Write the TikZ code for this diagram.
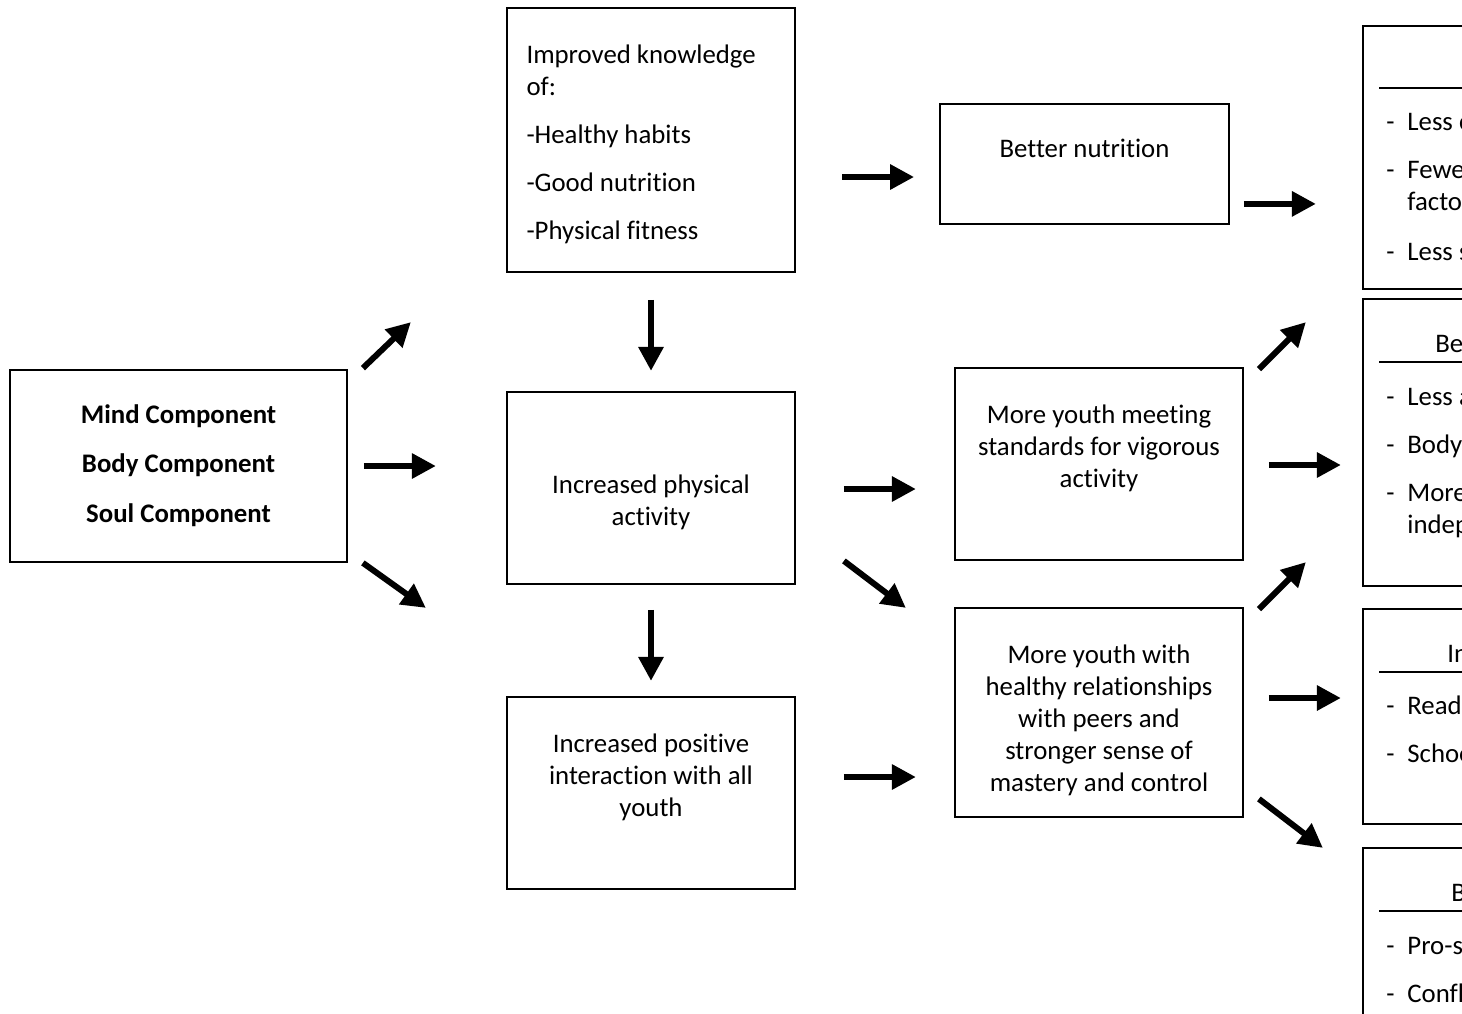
\documentclass[tikz,border=0pt]{standalone}
\usepackage{fontspec}
\setmainfont{Carlito}[Ligatures=NoCommon]
\usetikzlibrary{arrows.meta,calc}

\newcommand{\itm}{\makebox[10.5pt][l]{-}}

\tikzset{
  box/.style={draw, line width=0.9pt, inner sep=0pt},
  txt/.style={inner sep=0pt, align=center, font=\fontsize{13.4}{16.1}\selectfont},
  ltxt/.style={inner sep=0pt, anchor=base west, font=\fontsize{13.4}{16.1}\selectfont},
  bigarrow/.style={line width=3pt, -{Triangle[length=12pt,width=12pt]}},
}

\begin{document}
\begin{tikzpicture}[x=0.5pt, y=-0.5pt]
\useasboundingbox (0,0) rectangle (1462,1013);
\clip (0,0) rectangle (1462,1013);

% boxes, left to right
\node[box, minimum width=168.5pt, minimum height=96pt] (mind) at (178.5,466) {};
\node[box, minimum width=144pt, minimum height=132pt] (know) at (651,140) {};
\node[box, minimum width=144pt, minimum height=96pt] (act) at (651,488) {};
\node[box, minimum width=144pt, minimum height=96pt] (inter) at (651,793) {};
\node[box, minimum width=144.5pt, minimum height=60pt] (nutr) at (1084.5,164) {};
\node[box, minimum width=144pt, minimum height=96pt] (vig) at (1099,464) {};
\node[box, minimum width=144pt, minimum height=104.5pt] (rel) at (1099,712.5) {};

% outcome boxes (cut by the page edge)
\node[box, anchor=north west, minimum width=169pt, minimum height=131.5pt] (health) at (1362,25) {};
\node[box, anchor=north west, minimum width=169pt, minimum height=143.5pt] (esteem) at (1362,298) {};
\node[box, anchor=north west, minimum width=169pt, minimum height=107.5pt] (school) at (1362,608) {};
\node[box, anchor=north west, minimum width=169pt, minimum height=136.5pt] (behav) at (1362,847) {};

% texts
\node[txt, anchor=north] (mindtxt) at ($(mind.north)+(0,35)$)
  {\bfseries Mind Component\\[8.6pt]\bfseries Body Component\\[8.6pt]\bfseries Soul Component};
\node[txt, anchor=north west, align=left] (knowtxt) at ($(know.north west)+(20,37)$)
  {Improved knowledge\\ of:\\[8pt] -Healthy habits\\[8pt] -Good nutrition\\[8pt] -Physical fitness};
\node[txt, anchor=north] (acttxt) at ($(act.north)+(0,83)$) {Increased physical\\activity};
\node[txt, anchor=north] (intertxt) at ($(inter.north)+(0,37)$) {Increased positive\\interaction with all\\youth};
\node[txt, anchor=north] (nutrtxt) at ($(nutr.north)+(0,36)$) {Better nutrition};
\node[txt, anchor=north] (vigtxt) at ($(vig.north)+(0,37)$) {More youth meeting\\standards for vigorous\\activity};
\node[txt, anchor=north] (reltxt) at ($(rel.north)+(0,37)$)
  {More youth with\\healthy relationships\\with peers and\\stronger sense of\\mastery and control};

% outcome headers and items
\draw[line width=0.8pt] ($(health.north west)+(17,63)$) -- ++(300,0);
\node[ltxt] (h1) at ($(health.north west)+(24,105)$) {\itm Less chronic disease};
\node[ltxt] (h2) at ($(health.north west)+(24,153)$) {\itm Fewer cardiovascular risk};
\node[ltxt] (h2b) at ($(health.north west)+(45,185)$) {factors};
\node[ltxt] (h3) at ($(health.north west)+(24,235)$) {\itm Less stress};

\node[ltxt] (esteemhd) at ($(esteem.north west)+(73,54)$) {Better self-esteem};
\draw[line width=0.8pt] ($(esteem.north west)+(17,64)$) -- ++(300,0);
\node[ltxt] (e1) at ($(esteem.north west)+(24,107)$) {\itm Less anxiety and depression};
\node[ltxt] (e2) at ($(esteem.north west)+(24,155)$) {\itm Body image};
\node[ltxt] (e3) at ($(esteem.north west)+(24,203)$) {\itm More confident and};
\node[ltxt] (e3b) at ($(esteem.north west)+(45,235)$) {independent};

\node[ltxt] (schoolhd) at ($(school.north west)+(85,54)$) {Increased academics};
\draw[line width=0.8pt] ($(school.north west)+(17,64)$) -- ++(300,0);
\node[ltxt] (s1) at ($(school.north west)+(24,106)$) {\itm Reading scores};
\node[ltxt] (s2) at ($(school.north west)+(24,154)$) {\itm School attendance};

\node[ltxt] (behavhd) at ($(behav.north west)+(89,54)$) {Better behavior};
\draw[line width=0.8pt] ($(behav.north west)+(17,64)$) -- ++(300,0);
\node[ltxt] (b1) at ($(behav.north west)+(24,107)$) {\itm Pro-social behavior};
\node[ltxt] (b2) at ($(behav.north west)+(24,155)$) {\itm Conflict resolution};

% arrows
\draw[bigarrow] ($(mind.north east)+(15,-1)$) -- ++(48,-46);
\draw[bigarrow] ($(mind.east)+(16,0)$) -- ++(72,0);
\draw[bigarrow] ($(mind.south east)+(15,0)$) -- ++(63,45);
\draw[bigarrow] ($(know.south)+(0,27)$) -- ++(0,71);
\draw[bigarrow] ($(act.south)+(0,25)$) -- ++(0,71);
\draw[bigarrow] ($(nutr.west)+(-97,13)$) -- ++(72,0);
\draw[bigarrow] ($(nutr.south east)+(14,-21)$) -- ++(72,0);
\draw[bigarrow] ($(act.east)+(48,1)$) -- ++(72,0);
\draw[bigarrow] ($(act.south east)+(48,-24)$) -- ++(62,47);
\draw[bigarrow] ($(inter.east)+(48,-16)$) -- ++(72,0);
\draw[bigarrow] ($(vig.north east)+(15,2)$) -- ++(47,-47);
\draw[bigarrow] ($(vig.east)+(25,1)$) -- ++(72,0);
\draw[bigarrow] ($(rel.north east)+(15,2)$) -- ++(47,-47);
\draw[bigarrow] ($(rel.east)+(25,-14.5)$) -- ++(72,0);
\draw[bigarrow] ($(rel.south east)+(15,-19)$) -- ++(64,49);

\end{tikzpicture}
\end{document}
